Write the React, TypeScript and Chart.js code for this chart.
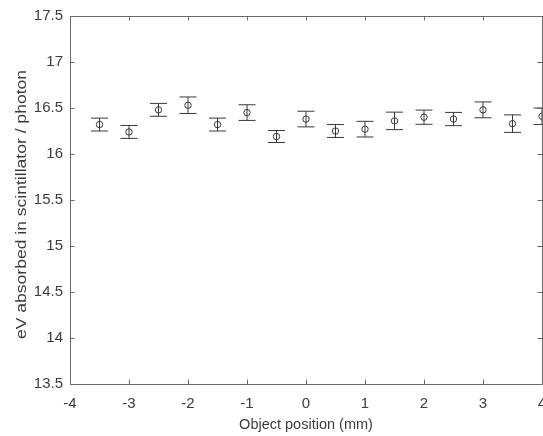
import React, { useEffect, useRef } from "react";
import { Chart, registerables } from "chart.js";

Chart.register(...registerables);

const positions = [-3.5, -3, -2.5, -2, -1.5, -1, -0.5, 0, 0.5, 1, 1.5, 2, 2.5, 3, 3.5, 4];
const energies = [16.32, 16.24, 16.48, 16.53, 16.32, 16.45, 16.19, 16.38, 16.25, 16.27, 16.36, 16.40, 16.38, 16.48, 16.33, 16.41];
const errors = [0.07, 0.07, 0.07, 0.09, 0.07, 0.085, 0.065, 0.085, 0.07, 0.085, 0.095, 0.077, 0.072, 0.086, 0.095, 0.09];
const xTicks = [-4, -3, -2, -1, 0, 1, 2, 3, 4];
const yTicks = [13.5, 14, 14.5, 15, 15.5, 16, 16.5, 17, 17.5];
const yTitle = "eV absorbed in scintillator / photon";

const MARK = "#383838";
const AXIS = "#6a6a6a";
const TEXT = "#3c3c3c";
const FONT = "'Liberation Sans', Arial, sans-serif";

const boxPlugin = {
  id: "boxPlugin",
  afterDraw(chart: any) {
    const { ctx, chartArea } = chart;
    const { left, right, top, bottom } = chartArea;
    const xs = chart.scales.x;
    const ys = chart.scales.y;
    ctx.save();
    ctx.strokeStyle = AXIS;
    ctx.lineWidth = 1;
    ctx.beginPath();
    ctx.rect(Math.round(left) + 0.5, Math.round(top) + 0.5, Math.round(right - left), Math.round(bottom - top));
    ctx.stroke();
    const tl = 4.5;
    ctx.beginPath();
    xTicks.forEach((t) => {
      const px = Math.round(xs.getPixelForValue(t)) + 0.5;
      ctx.moveTo(px, bottom);
      ctx.lineTo(px, bottom - tl);
      ctx.moveTo(px, top);
      ctx.lineTo(px, top + tl);
    });
    yTicks.forEach((t) => {
      const py = Math.round(ys.getPixelForValue(t)) + 0.5;
      ctx.moveTo(left, py);
      ctx.lineTo(left + tl, py);
      ctx.moveTo(right, py);
      ctx.lineTo(right - tl, py);
    });
    ctx.stroke();

    // y-axis title, stretched along its length like the reference
    ctx.font = `14.5px ${FONT}`;
    ctx.fillStyle = TEXT;
    ctx.textAlign = "center";
    ctx.textBaseline = "middle";
    const w = ctx.measureText(yTitle).width;
    const sx = 269 / w;
    ctx.translate(21.7, (top + bottom) / 2 + 4.5);
    ctx.rotate(-Math.PI / 2);
    ctx.scale(sx, 1);
    ctx.fillText(yTitle, 0, 0);
    ctx.restore();
  },
  afterDatasetsDraw(chart: any) {
    const { ctx } = chart;
    const xs = chart.scales.x;
    const ys = chart.scales.y;
    ctx.save();
    ctx.strokeStyle = MARK;
    ctx.lineWidth = 1;
    const cap = 8.5;
    positions.forEach((p, i) => {
      const px = xs.getPixelForValue(p);
      const yTop = ys.getPixelForValue(energies[i] + errors[i]);
      const yBot = ys.getPixelForValue(energies[i] - errors[i]);
      ctx.beginPath();
      ctx.moveTo(px, yTop);
      ctx.lineTo(px, yBot);
      ctx.moveTo(px - cap, yTop);
      ctx.lineTo(px + cap, yTop);
      ctx.moveTo(px - cap, yBot);
      ctx.lineTo(px + cap, yBot);
      ctx.stroke();
    });
    ctx.restore();
  },
};

export default function App() {
  const ref = useRef<HTMLCanvasElement | null>(null);
  useEffect(() => {
    if (!ref.current) return;
    const chart = new Chart(ref.current, {
      type: "scatter",
      data: {
        datasets: [
          {
            data: positions.map((p, i) => ({ x: p, y: energies[i] })),
            pointStyle: "circle",
            pointRadius: 3.2,
            pointBorderWidth: 1,
            pointBorderColor: MARK,
            pointBackgroundColor: "rgba(0,0,0,0)",
            showLine: false,
            clip: false,
          } as any,
        ],
      },
      options: {
        animation: false,
        responsive: false,
        devicePixelRatio: 1,
        layout: { padding: { left: 0, right: 58, top: 12, bottom: 0 } },
        plugins: { legend: { display: false }, tooltip: { enabled: false } },
        scales: {
          x: {
            type: "linear",
            min: -4,
            max: 4,
            grid: { display: false, drawTicks: false },
            border: { display: false },
            afterBuildTicks: (s: any) => {
              s.ticks = xTicks.map((v) => ({ value: v }));
            },
            afterFit: (s: any) => {
              s.height = 52;
            },
            ticks: {
              padding: 11,
              color: TEXT,
              font: { family: FONT, size: 15 },
              maxRotation: 0,
              autoSkip: false,
              callback: (v: any) => String(v),
            },
            title: {
              display: true,
              text: "Object position (mm)",
              color: TEXT,
              font: { family: FONT, size: 14.5 },
              padding: { top: 0, bottom: 2 },
            },
          },
          y: {
            type: "linear",
            min: 13.5,
            max: 17.5,
            grid: { display: false, drawTicks: false },
            border: { display: false },
            afterBuildTicks: (s: any) => {
              s.ticks = yTicks.map((v) => ({ value: v }));
            },
            afterFit: (s: any) => {
              s.width = 70;
            },
            ticks: {
              padding: 7,
              color: TEXT,
              font: { family: FONT, size: 15 },
              autoSkip: false,
              callback: (v: any) => String(v),
            },
            title: { display: false },
          },
        },
      },
      plugins: [boxPlugin],
    });
    return () => chart.destroy();
  }, []);
  return (
    <div
      style={{
        position: "fixed",
        left: 0,
        top: 0,
        width: 543,
        height: 436,
        overflow: "hidden",
        background: "#fff",
      }}
    >
      <canvas ref={ref} width={600} height={436} style={{ width: 600, height: 436, display: "block" }} />
    </div>
  );
}
